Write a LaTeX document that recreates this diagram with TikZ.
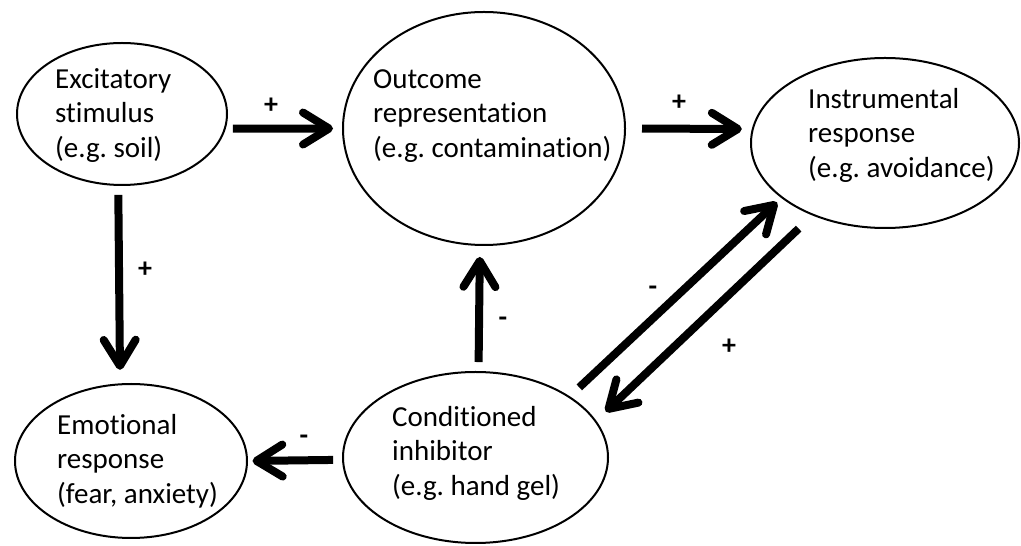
\documentclass[tikz,border=0pt]{standalone}
\usepackage{fontspec}
\setmainfont{Carlito}[Ligatures=NoCommon]
\usetikzlibrary{shapes.geometric,arrows.meta}
\frenchspacing
\begin{document}
\begin{tikzpicture}[>={Straight Barb[length=26bp,width=32bp,round]},line join=round,
  bubble/.style={ellipse,draw=black,line width=2bp,inner sep=0pt},
  txt/.style={anchor=west,align=left,inner sep=0pt,font=\fontsize{29bp}{34.5bp}\selectfont},
  sgn/.style={inner sep=0pt,font=\fontsize{28bp}{34bp}\selectfont\bfseries},
  link/.style={black,line width=8bp,->}]
\useasboundingbox (0bp,0bp) rectangle (1021bp,546bp);
%%
\node (excit) at (122bp,432bp) [bubble,minimum width=210bp,minimum height=142bp] {};
  \node (outcome) at (484bp,417.5bp) [bubble,minimum width=282bp,minimum height=233bp] {};
  \node (instr) at (885bp,403bp) [bubble,minimum width=268bp,minimum height=170bp] {};
  \node (emot) at (131bp,85bp) [bubble,minimum width=232bp,minimum height=154bp] {};
  \node (cond) at (475.5bp,88.5bp) [bubble,minimum width=265bp,minimum height=171bp] {};
%
\node (excit_txt) at (55bp,430.5bp) [txt] {Excitatory\\stimulus\\(e.g. soil)};
  \node (outcome_txt) at (373bp,430bp) [txt] {Outcome\\representation\\(e.g. contamination)};
  \node (instr_txt) at (808bp,411bp) [txt] {Instrumental\\response\\(e.g. avoidance)};
  \node (emot_txt) at (57bp,85bp) [txt] {Emotional\\response\\(fear, anxiety)};
  \node (cond_txt) at (392bp,93bp) [txt] {Conditioned\\inhibitor\\(e.g. hand gel)};
%
\node (sign_eo) at (271bp,440bp) [sgn] {+};
  \node (sign_oi) at (679bp,443bp) [sgn] {+};
  \node (sign_ee) at (145bp,276bp) [sgn] {+};
  \node (sign_co) at (503bp,224bp) [sgn] {-};
  \node (sign_ce) at (304bp,106bp) [sgn] {-};
  \node (sign_ci) at (653bp,255bp) [sgn] {-};
  \node (sign_ic) at (729bp,199bp) [sgn] {+};
%
\draw [link,shorten <=7bp,shorten >=9bp] (excit.-8.2) -- (outcome.180.8);
  \draw [link,shorten <=16bp,shorten >=10bp] (outcome.-0.5) -- (instr.174.9);
  \draw [link,shorten <=9bp,shorten >=13.5bp] (excit.-93.5) -- (emot.98.7);
  \draw [link,shorten <=9bp,shorten >=11bp] (cond.88.5) -- (outcome.-92.7);
  \draw [link,shorten <=9bp,shorten >=4.5bp] (cond.181.8) -- (emot.-0.5);
  \draw [link,shorten <=13bp,shorten >=6bp] (cond.33) -- (instr.-152);
  \draw [link,shorten <=19bp,shorten >=13bp] (instr.-135) -- (cond.17.8);
%
\end{tikzpicture}
\end{document}
